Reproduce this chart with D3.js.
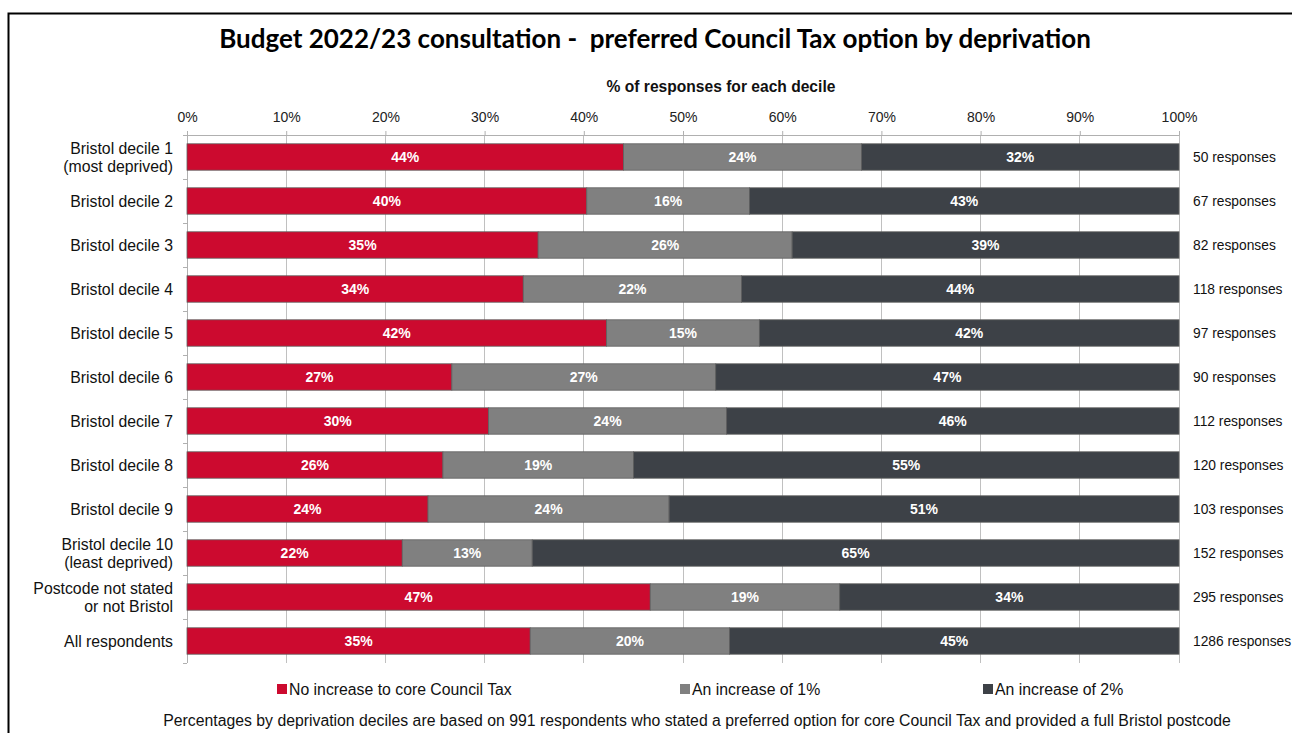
<!DOCTYPE html>
<html><head><meta charset="utf-8">
<script src="https://cdn.jsdelivr.net/npm/d3@7"></script>
<style>body{margin:0;background:#fff;} svg{display:block;}</style>
</head><body>
<svg id="chart" width="1292" height="733"></svg>
<script>
const categories = [
  ["Bristol decile 1","(most deprived)"],
  ["Bristol decile 2"],
  ["Bristol decile 3"],
  ["Bristol decile 4"],
  ["Bristol decile 5"],
  ["Bristol decile 6"],
  ["Bristol decile 7"],
  ["Bristol decile 8"],
  ["Bristol decile 9"],
  ["Bristol decile 10","(least deprived)"],
  ["Postcode not stated","or not Bristol"],
  ["All respondents"]
];
const noIncrease = [44.0, 40.3, 35.4, 33.9, 42.3, 26.7, 30.4, 25.8, 24.3, 21.7, 46.7, 34.6];
const increase1  = [24.0, 16.4, 25.6, 22.0, 15.4, 26.6, 24.0, 19.2, 24.3, 13.1, 19.1, 20.1];
const increase2  = [32.0, 43.3, 39.0, 44.1, 42.3, 46.7, 45.6, 55.0, 51.4, 65.2, 34.2, 45.3];
const responses  = [50, 67, 82, 118, 97, 90, 112, 120, 103, 152, 295, 1286];
const seriesNames = ["No increase to core Council Tax", "An increase of 1%", "An increase of 2%"];
const xTicks = [0,10,20,30,40,50,60,70,80,90,100];
const titleText = "Budget 2022/23 consultation -  preferred Council Tax option by deprivation";
const axisTitle = "% of responses for each decile";
const footnote = "Percentages by deprivation deciles are based on 991 respondents who stated a preferred option for core Council Tax and provided a full Bristol postcode";

const colors = ["#CC0A2F", "#808080", "#3D4147"];
const svg = d3.select("#chart");
const font = "'Liberation Sans', Arial, sans-serif";

// frame
svg.append("rect").attr("x",8.5).attr("y",13.5).attr("width",1300).attr("height",740)
  .attr("fill","none").attr("stroke","#000").attr("stroke-width",2);

const pL = 187, pR = 1179, pT = 135, pB = 663;
const x = d3.scaleLinear().domain([0,100]).range([pL,pR]);
const y = d3.scaleBand().domain(d3.range(categories.length)).range([pT,pB]).paddingInner(0.4).paddingOuter(0.2);

// gridlines
svg.append("g").selectAll("line").data(xTicks).join("line")
  .attr("x1",d=>x(d)).attr("x2",d=>x(d)).attr("y1",pT).attr("y2",pB)
  .attr("stroke","#c0c0c0").attr("stroke-width",1).attr("shape-rendering","crispEdges");

// top axis
const xAxis = d3.axisTop(x).tickValues(xTicks).tickFormat(d=>d+"%").tickSize(4).tickSizeOuter(0);
const gx = svg.append("g").attr("transform",`translate(0,${pT})`).call(xAxis);
gx.select(".domain").attr("stroke","#b0b0b0");
gx.selectAll(".tick line").attr("stroke","#b0b0b0");
gx.selectAll(".tick text").attr("font-family",font).attr("font-size",14).attr("fill","#222").attr("dy","-0.4em");

// left axis line and ticks at band boundaries
const yB = d3.scaleLinear().domain([0,categories.length]).range([pT,pB]);
svg.append("line").attr("x1",pL).attr("x2",pL).attr("y1",pT).attr("y2",pB)
  .attr("stroke","#b0b0b0").attr("shape-rendering","crispEdges");
svg.append("g").selectAll("line").data(d3.range(categories.length+1)).join("line")
  .attr("x1",pL-4).attr("x2",pL).attr("y1",d=>yB(d)).attr("y2",d=>yB(d))
  .attr("stroke","#b0b0b0").attr("shape-rendering","crispEdges");

// stacked data
const rows = categories.map((c,i)=>({i, vals:[noIncrease[i], increase1[i], increase2[i]]}));
const stackData = rows.map(r=>{ let acc=0; return r.vals.map((v,k)=>{ const s=acc; acc+=v; return {i:r.i,k,v,x0:s,x1:acc}; }); }).flat();

svg.append("g").selectAll("rect").data(stackData).join("rect")
  .attr("x",d=>x(d.x0)).attr("width",d=>x(d.x1)-x(d.x0))
  .attr("y",d=>y(d.i)).attr("height",y.bandwidth())
  .attr("fill",d=>colors[d.k]).attr("stroke","#5f5f5f").attr("stroke-width",0.8);

svg.append("g").selectAll("text").data(stackData).join("text")
  .attr("x",d=>(x(d.x0)+x(d.x1))/2).attr("y",d=>y(d.i)+y.bandwidth()/2)
  .attr("dy","0.36em").attr("text-anchor","middle")
  .attr("font-family",font).attr("font-weight","bold").attr("font-size",14).attr("fill","#fff")
  .text(d=>Math.round(d.v)+"%");

// category labels
const cl = svg.append("g").selectAll("text").data(categories).join("text")
  .attr("x",173).attr("y",(d,i)=>y(i)+y.bandwidth()/2)
  .attr("text-anchor","end").attr("font-family",font).attr("font-size",15.8).attr("fill","#111");
cl.each(function(d){
  const t=d3.select(this);
  d.forEach((line,j)=>{
    t.append("tspan").attr("x",173)
      .attr("dy", j===0 ? (d.length===1? "0.36em" : "-0.22em") : "1.14em").text(line);
  });
});

// responses
svg.append("g").selectAll("text").data(responses).join("text")
  .attr("x",1193).attr("y",(d,i)=>y(i)+y.bandwidth()/2).attr("dy","0.36em")
  .attr("font-family",font).attr("font-size",13.8).attr("fill","#111")
  .text(d=>d+" responses");

// title
svg.append("text").attr("x",655).attr("y",48).attr("text-anchor","middle")
  .attr("xml:space","preserve").style("white-space","pre")
  .attr("font-family","Lato, 'Open Sans', sans-serif").attr("font-weight","bold").attr("font-size",26).attr("fill","#000")
  .text(titleText);
svg.append("text").attr("x",721).attr("y",92).attr("text-anchor","middle")
  .attr("font-family",font).attr("font-weight","bold").attr("font-size",15.6).attr("fill","#111")
  .text(axisTitle);

// legend
const legX = [277, 680, 983];
const lg = svg.append("g").selectAll("g").data(seriesNames).join("g")
  .attr("transform",(d,i)=>`translate(${legX[i]},689)`);
lg.append("rect").attr("x",0).attr("y",-5).attr("width",10).attr("height",10).attr("fill",(d,i)=>colors[i]);
lg.append("text").attr("x",12).attr("y",0).attr("dy","0.36em").attr("font-family",font).attr("font-size",15.8).attr("fill","#111").text(d=>d);

svg.append("text").attr("x",697).attr("y",720).attr("dy","0.36em").attr("text-anchor","middle")
  .attr("font-family",font).attr("font-size",15.8).attr("fill","#111").text(footnote);
</script>
</body></html>
